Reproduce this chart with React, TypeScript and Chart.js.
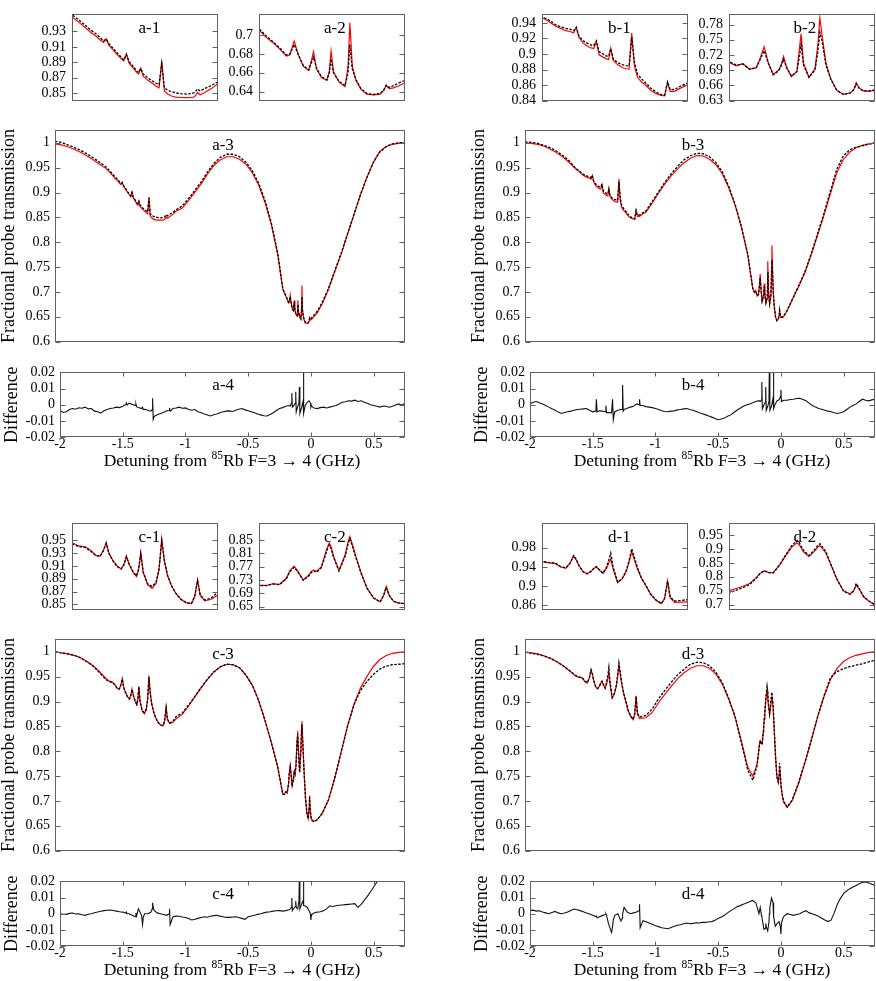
import React, { useEffect, useRef } from "react";
import { Chart, registerables } from "chart.js";

Chart.register(...registerables);

const SERIF = '"Liberation Serif", "Times New Roman", Times, serif';

// ---------- shared detuning grid (GHz) for transmission curves ----------
const detuning = [
  -2.0, -1.95, -1.9, -1.85, -1.8, -1.75, -1.7, -1.65,
  -1.6, -1.575, -1.55, -1.53, -1.51, -1.494, -1.481, -1.471, -1.461, -1.445,
  -1.43, -1.415, -1.405, -1.395, -1.385, -1.37, -1.357, -1.349, -1.341, -1.332,
  -1.315, -1.298, -1.283, -1.272, -1.262, -1.252, -1.24, -1.225, -1.21, -1.19,
  -1.17, -1.15, -1.138, -1.127, -1.117, -1.1, -1.075, -1.05,
  -1.0, -0.95, -0.9, -0.85, -0.8, -0.75, -0.7, -0.65, -0.6, -0.55, -0.5, -0.45, -0.4, -0.35, -0.3, -0.25,
  -0.21, -0.198, -0.187, -0.176, -0.165, -0.159, -0.152, -0.145, -0.137, -0.128,
  -0.124, -0.12, -0.115, -0.107, -0.098, -0.094, -0.091, -0.087, -0.078, -0.068,
  -0.063, -0.06, -0.056, -0.05, -0.042, -0.032, -0.021, -0.01, -0.004, 0,
  0.005, 0.012, 0.02, 0.031,
  0.06, 0.1, 0.15, 0.2, 0.25, 0.3, 0.35, 0.4, 0.45, 0.5, 0.55, 0.6, 0.65, 0.7, 0.75,
];

// ---------- panel a ----------
const theoryA = [
  0.998, 0.996, 0.992, 0.987, 0.981, 0.974, 0.966, 0.957,
  0.9486, 0.942, 0.935, 0.929, 0.924, 0.919, 0.9159, 0.9205, 0.912, 0.906,
  0.9, 0.895, 0.8917, 0.901, 0.889, 0.883, 0.877, 0.8749, 0.8824, 0.872,
  0.867, 0.863, 0.859, 0.857, 0.891, 0.853, 0.849, 0.8465, 0.845, 0.8445,
  0.8444, 0.8445, 0.8455, 0.851, 0.848, 0.851, 0.856, 0.8623,
  0.869, 0.884, 0.901, 0.918, 0.938, 0.955, 0.966, 0.972, 0.972, 0.967, 0.957, 0.94, 0.915, 0.88, 0.835, 0.775,
  0.7052, 0.6976, 0.692, 0.6854, 0.6778, 0.679, 0.6936, 0.679, 0.667, 0.6625,
  0.6717, 0.6823, 0.664, 0.6549, 0.6519, 0.661, 0.683, 0.661, 0.6503, 0.6452,
  0.667, 0.7128, 0.667, 0.652, 0.6427, 0.6373, 0.6366, 0.6373, 0.6412, 0.6464,
  0.6433, 0.644, 0.646, 0.6494,
  0.658, 0.676, 0.706, 0.742, 0.777, 0.817, 0.856, 0.895, 0.93, 0.96, 0.982, 0.992, 0.997, 0.999, 1.0,
];
const experimentA = [
  1.003, 1.001, 0.996, 0.991, 0.985, 0.978, 0.97, 0.961,
  0.9516, 0.945, 0.938, 0.932, 0.927, 0.922, 0.918, 0.92, 0.914, 0.908,
  0.902, 0.897, 0.893, 0.9, 0.891, 0.885, 0.879, 0.877, 0.882, 0.875,
  0.87, 0.866, 0.863, 0.861, 0.889, 0.857, 0.854, 0.852, 0.8505, 0.8495,
  0.849, 0.8495, 0.851, 0.8556, 0.853, 0.856, 0.86, 0.8649,
  0.873, 0.888, 0.905, 0.922, 0.942, 0.959, 0.971, 0.977, 0.977, 0.972, 0.961, 0.944, 0.919, 0.884, 0.839, 0.778,
  0.7067, 0.699, 0.693, 0.6865, 0.679, 0.68, 0.69, 0.679, 0.668, 0.663,
  0.67, 0.6762, 0.665, 0.656, 0.6525, 0.66, 0.6747, 0.66, 0.651, 0.6464,
  0.66, 0.69, 0.664, 0.653, 0.6435, 0.638, 0.637, 0.638, 0.642, 0.647,
  0.6445, 0.6464, 0.649, 0.652,
  0.661, 0.679, 0.708, 0.744, 0.779, 0.818, 0.857, 0.896, 0.93, 0.96, 0.981, 0.992, 0.998, 1.0, 1.001,
];

// ---------- panel b ----------
const theoryB = [
  1.0, 0.999, 0.997, 0.993, 0.987, 0.98, 0.971, 0.96,
  0.9474, 0.942, 0.936, 0.933, 0.93, 0.929, 0.927, 0.9344, 0.9215, 0.914,
  0.9104, 0.9078, 0.907, 0.916, 0.899, 0.896, 0.8937, 0.893, 0.9074, 0.8919,
  0.886, 0.8826, 0.881, 0.8807, 0.927, 0.8844, 0.87, 0.864, 0.86, 0.853,
  0.849, 0.8468, 0.8462, 0.863, 0.8519, 0.852, 0.8567, 0.8604,
  0.879, 0.899, 0.918, 0.934, 0.948, 0.96, 0.969, 0.9744, 0.9735, 0.967, 0.956, 0.938, 0.91, 0.875, 0.83, 0.775,
  0.7056, 0.6987, 0.7033, 0.6918, 0.695, 0.712, 0.7359, 0.7044, 0.6815, 0.69,
  0.7, 0.717, 0.6959, 0.677, 0.6873, 0.73, 0.7617, 0.7044, 0.6758, 0.693,
  0.7445, 0.7932, 0.756, 0.7044, 0.673, 0.65, 0.6426, 0.645, 0.652, 0.6655,
  0.655, 0.649, 0.6483, 0.65,
  0.662, 0.684, 0.711, 0.739, 0.775, 0.815, 0.855, 0.898, 0.94, 0.966, 0.981, 0.99, 0.995, 0.998, 1.0,
];
const experimentB = [
  1.002, 1.001, 0.999, 0.995, 0.99, 0.983, 0.974, 0.963,
  0.948, 0.944, 0.938, 0.935, 0.933, 0.932, 0.93, 0.9344, 0.9233, 0.917,
  0.914, 0.9115, 0.911, 0.917, 0.903, 0.9, 0.8974, 0.897, 0.9067, 0.8937,
  0.889, 0.8863, 0.885, 0.8844, 0.9215, 0.89, 0.874, 0.868, 0.863, 0.856,
  0.851, 0.8475, 0.847, 0.8641, 0.854, 0.8545, 0.8593, 0.863,
  0.882, 0.902, 0.921, 0.938, 0.953, 0.966, 0.974, 0.979, 0.978, 0.972, 0.96, 0.942, 0.913, 0.877, 0.832, 0.776,
  0.7073, 0.7, 0.7016, 0.692, 0.695, 0.71, 0.7285, 0.703, 0.681, 0.689,
  0.698, 0.7113, 0.695, 0.6787, 0.687, 0.715, 0.74, 0.7, 0.676, 0.69,
  0.73, 0.7645, 0.745, 0.7, 0.672, 0.65, 0.642, 0.645, 0.651, 0.6632,
  0.654, 0.649, 0.649, 0.651,
  0.663, 0.685, 0.712, 0.741, 0.778, 0.818, 0.859, 0.903, 0.947, 0.973, 0.986, 0.991, 0.994, 0.997, 1.0,
];

// ---------- panel c ----------
const theoryC = [
  1.0, 0.998, 0.996, 0.993, 0.988, 0.981, 0.972, 0.96,
  0.9464, 0.941, 0.9397, 0.9343, 0.926, 0.9253, 0.935, 0.9464, 0.9298, 0.918,
  0.91, 0.9052, 0.912, 0.9253, 0.913, 0.9, 0.893, 0.904, 0.9307, 0.9,
  0.8805, 0.8751, 0.883, 0.905, 0.9522, 0.918, 0.895, 0.879, 0.868, 0.858,
  0.8525, 0.8513, 0.862, 0.8881, 0.864, 0.8558, 0.858, 0.8648,
  0.874, 0.891, 0.91, 0.928, 0.945, 0.96, 0.97, 0.975, 0.974, 0.968, 0.953, 0.933, 0.902, 0.862, 0.817, 0.768,
  0.7135, 0.7135, 0.7187, 0.717, 0.735, 0.758, 0.7717, 0.7543, 0.73, 0.744,
  0.755, 0.7604, 0.756, 0.77, 0.825, 0.8413, 0.83, 0.8022, 0.7587, 0.805,
  0.845, 0.8604, 0.838, 0.8, 0.7543, 0.7065, 0.6761, 0.6648, 0.685, 0.7109,
  0.684, 0.666, 0.6613, 0.6587,
  0.662, 0.675, 0.703, 0.748, 0.8, 0.852, 0.895, 0.927, 0.95, 0.97, 0.984, 0.992, 0.997, 0.999, 1.0,
];
const experimentC = [
  1.0, 0.998, 0.996, 0.993, 0.988, 0.98, 0.971, 0.958,
  0.9442, 0.94, 0.9385, 0.933, 0.926, 0.925, 0.934, 0.945, 0.929, 0.917,
  0.909, 0.905, 0.911, 0.924, 0.913, 0.901, 0.8945, 0.905, 0.929, 0.901,
  0.882, 0.878, 0.885, 0.905, 0.9487, 0.917, 0.895, 0.879, 0.868, 0.858,
  0.853, 0.8515, 0.862, 0.887, 0.865, 0.857, 0.86, 0.8693,
  0.877, 0.893, 0.911, 0.929, 0.946, 0.96, 0.97, 0.975, 0.974, 0.968, 0.953, 0.933, 0.902, 0.862, 0.817, 0.768,
  0.7135, 0.713, 0.718, 0.716, 0.733, 0.755, 0.768, 0.752, 0.729, 0.742,
  0.752, 0.757, 0.753, 0.767, 0.818, 0.835, 0.824, 0.798, 0.757, 0.8,
  0.838, 0.8543, 0.832, 0.797, 0.753, 0.706, 0.676, 0.664, 0.684, 0.708,
  0.683, 0.666, 0.661, 0.6585,
  0.662, 0.675, 0.703, 0.748, 0.8, 0.852, 0.894, 0.922, 0.94, 0.954, 0.965, 0.971, 0.974, 0.975, 0.976,
];

// ---------- panel d ----------
const theoryD = [
  1.0, 0.998, 0.996, 0.992, 0.987, 0.98, 0.972, 0.962,
  0.9509, 0.9485, 0.9475, 0.94, 0.937, 0.948, 0.963, 0.955, 0.943, 0.93,
  0.9255, 0.931, 0.937, 0.94, 0.934, 0.9267, 0.937, 0.947, 0.957, 0.935,
  0.907, 0.915, 0.93, 0.95, 0.9721, 0.955, 0.935, 0.916, 0.902, 0.882,
  0.87, 0.8635, 0.874, 0.9115, 0.8752, 0.8661, 0.8665, 0.8673,
  0.878, 0.898, 0.915, 0.931, 0.946, 0.958, 0.967, 0.972, 0.972, 0.967, 0.955, 0.935, 0.905, 0.87, 0.82, 0.768,
  0.75, 0.758, 0.766, 0.776, 0.7969, 0.812, 0.8208, 0.816, 0.8146, 0.838,
  0.85, 0.8646, 0.88, 0.905, 0.9219, 0.915, 0.905, 0.89, 0.873, 0.894,
  0.908, 0.9115, 0.902, 0.8854, 0.8438, 0.7917, 0.75, 0.739, 0.75, 0.7708,
  0.755, 0.728, 0.7135, 0.6979,
  0.687, 0.701, 0.735, 0.777, 0.822, 0.87, 0.91, 0.944, 0.966, 0.98, 0.988, 0.993, 0.996, 0.999, 1.0,
];
const experimentD = [
  0.999, 0.997, 0.995, 0.991, 0.987, 0.98, 0.972, 0.962,
  0.952, 0.9495, 0.948, 0.941, 0.938, 0.948, 0.964, 0.956, 0.943, 0.93,
  0.926, 0.931, 0.937, 0.941, 0.935, 0.927, 0.94, 0.953, 0.969, 0.94,
  0.908, 0.916, 0.932, 0.953, 0.978, 0.96, 0.938, 0.917, 0.903, 0.883,
  0.871, 0.864, 0.875, 0.91, 0.877, 0.869, 0.87, 0.8721,
  0.885, 0.906, 0.923, 0.939, 0.954, 0.965, 0.975, 0.979, 0.978, 0.972, 0.959, 0.938, 0.907, 0.87, 0.818, 0.762,
  0.7417, 0.752, 0.761, 0.772, 0.795, 0.811, 0.822, 0.815, 0.814, 0.838,
  0.851, 0.866, 0.883, 0.91, 0.931, 0.923, 0.91, 0.895, 0.876, 0.899,
  0.914, 0.9188, 0.908, 0.89, 0.846, 0.792, 0.748, 0.737, 0.75, 0.776,
  0.758, 0.73, 0.714, 0.7,
  0.688, 0.702, 0.737, 0.779, 0.823, 0.87, 0.912, 0.948, 0.96, 0.966, 0.97, 0.973, 0.976, 0.98, 0.983,
];

// ---------- difference (theory - experiment) ----------
const diffDetuning = [
  -2, -1.975, -1.95, -1.925, -1.9, -1.875, -1.85, -1.825, -1.8, -1.775,
  -1.75, -1.725, -1.7, -1.675, -1.65, -1.625, -1.6, -1.575, -1.55, -1.525,
  -1.5, -1.475, -1.471, -1.465, -1.45, -1.425, -1.4, -1.395, -1.39, -1.375,
  -1.35, -1.342, -1.336, -1.325, -1.3, -1.275, -1.265, -1.262, -1.257, -1.25,
  -1.225, -1.2, -1.175, -1.15, -1.13, -1.127, -1.122, -1.1, -1.075, -1.05,
  -1.025, -1, -0.975, -0.95, -0.925, -0.9, -0.875, -0.85, -0.825, -0.8,
  -0.775, -0.75, -0.725, -0.7, -0.675, -0.65, -0.625, -0.6, -0.575, -0.55,
  -0.525, -0.5, -0.475, -0.45, -0.425, -0.4, -0.375, -0.35, -0.325, -0.3,
  -0.275, -0.25, -0.225, -0.2, -0.175, -0.165, -0.155, -0.152, -0.148, -0.135,
  -0.124, -0.121, -0.117, -0.105, -0.095, -0.092, -0.088, -0.075, -0.063, -0.06,
  -0.056, -0.045, -0.03, -0.015, -0.004, 0, 0.004, 0.015, 0.025, 0.05,
  0.075, 0.1, 0.125, 0.15, 0.175, 0.2, 0.225, 0.25, 0.275, 0.3,
  0.325, 0.35, 0.375, 0.4, 0.425, 0.45, 0.475, 0.5, 0.525, 0.55,
  0.575, 0.6, 0.625, 0.65, 0.675, 0.7, 0.725, 0.75,
];
const differenceA = [
  -0.0034, -0.0048, -0.0044, -0.003, -0.0024, -0.0028, -0.0019, -0.0022, -0.0015, -0.0026,
  -0.0024, -0.004, -0.0044, -0.0052, -0.0038, -0.003, -0.0024, -0.002, -0.0015, -0.0018,
  -0.001, 0.0002, 0.001, -0.0002, 0.001, 0.0002, -0.0005, 0.0005, -0.0012, -0.0018,
  -0.0024, -0.0015, -0.003, -0.0028, -0.0034, -0.004, -0.003, 0.004, -0.009, -0.0073,
  -0.0062, -0.0054, -0.0048, -0.0038, -0.0036, -0.002, -0.004, -0.0024, -0.002, -0.0015,
  -0.0022, -0.002, -0.003, -0.0034, -0.003, -0.0044, -0.005, -0.0058, -0.0064, -0.007,
  -0.0062, -0.0058, -0.005, -0.0044, -0.004, -0.0038, -0.0042, -0.0034, -0.0028, -0.0024,
  -0.0032, -0.0038, -0.0044, -0.005, -0.0058, -0.0063, -0.0068, -0.007, -0.006, -0.005,
  -0.0036, -0.0024, -0.0018, -0.001, -0.0005, -0.0008, 0.001, 0.0073, -0.0015, -0.0005,
  0.001, 0.008, -0.0045, -0.001, 0.001, 0.011, -0.0054, -0.002, 0.002, 0.021,
  -0.0054, -0.0005, 0.0015, 0.0024, 0.001, -0.0015, -0.0005, -0.0015, -0.002, -0.0024,
  -0.0018, -0.0015, -0.002, -0.0015, -0.001, -0.0005, 0.0005, 0.0015, 0.0018, 0.0024,
  0.0022, 0.0028, 0.002, 0.0024, 0.0015, 0.0009, 0.0, -0.0005, -0.001, -0.0015,
  -0.0008, -0.001, -0.0016, -0.001, -0.0002, 0.0005, -0.0003, 0.0009,
];
const differenceB = [
  0.0005, 0.0015, 0.002, 0.0012, 0.0005, -0.0005, -0.0015, -0.0025, -0.0034, -0.0046,
  -0.0054, -0.0048, -0.0044, -0.004, -0.0034, -0.003, -0.0028, -0.0026, -0.0024, -0.0035,
  -0.0044, -0.004, 0.0034, -0.0045, -0.0038, -0.004, -0.0044, -0.0005, -0.005, -0.0048,
  -0.005, 0.0034, -0.0093, -0.0045, -0.0034, -0.003, -0.003, 0.0122, -0.004, -0.003,
  -0.0022, -0.0015, -0.001, 0.0005, 0.0, 0.0034, -0.0005, -0.0005, -0.0012, -0.0015,
  -0.0018, -0.0024, -0.003, -0.0038, -0.0042, -0.0044, -0.004, -0.0038, -0.0032, -0.003,
  -0.0026, -0.0024, -0.003, -0.0034, -0.0042, -0.005, -0.0056, -0.0063, -0.007, -0.0077,
  -0.0085, -0.0093, -0.0088, -0.0083, -0.0072, -0.0063, -0.0048, -0.0034, -0.0022, -0.001,
  -0.0002, 0.0005, 0.0012, 0.002, 0.0025, 0.002, 0.003, 0.014, -0.0025, 0.0,
  0.0015, 0.011, -0.0035, -0.001, 0.002, 0.025, -0.0034, -0.001, 0.004, 0.025,
  -0.0025, 0.0005, 0.0025, 0.003, 0.005, 0.0093, 0.002, 0.0025, 0.0028, 0.0028,
  0.0032, 0.0034, 0.0038, 0.004, 0.0032, 0.0024, 0.001, -0.0005, -0.0015, -0.0024,
  -0.0028, -0.0034, -0.004, -0.0044, -0.005, -0.0054, -0.005, -0.0044, -0.003, -0.0015,
  -0.0005, 0.0005, 0.002, 0.0034, 0.0028, 0.0024, 0.003, 0.0034,
];
const differenceC = [
  0.0, -0.0004, -0.0004, 0.0002, 0.0004, -0.0002, 0.0, -0.0006, -0.001, -0.0003,
  0.0, 0.0006, 0.001, 0.0015, 0.0019, 0.0021, 0.0023, 0.002, 0.0016, 0.0012,
  0.001, 0.0004, 0.001, 0.0, 0.0, -0.001, -0.0019, 0.0005, -0.0015, 0.003,
  -0.001, -0.0068, -0.002, 0.0, 0.0, 0.001, 0.003, 0.0068, 0.004, 0.002,
  0.0005, 0.0, -0.0005, -0.001, 0.0, 0.003, -0.0068, -0.0019, -0.0015, -0.0016,
  -0.002, -0.0023, -0.003, -0.0039, -0.0034, -0.0029, -0.0024, -0.0019, -0.0022, -0.0016,
  -0.0012, -0.001, -0.0015, -0.0019, -0.0023, -0.0023, -0.002, -0.0019, -0.0024, -0.0029,
  -0.0035, -0.0019, -0.0014, -0.001, -0.0004, 0.0, 0.0005, 0.001, 0.0012, 0.0016,
  0.0018, 0.0019, 0.0016, 0.0019, 0.0025, 0.003, 0.004, 0.0097, 0.0019, 0.0035,
  0.0045, 0.0078, 0.004, 0.003, 0.008, 0.025, 0.003, 0.0058, 0.008, 0.025,
  0.005, 0.0048, 0.004, 0.0019, 0.0, -0.0039, -0.001, 0.0, 0.0005, 0.001,
  0.0012, 0.0019, 0.003, 0.0049, 0.0045, 0.0049, 0.0052, 0.0054, 0.0056, 0.0058,
  0.006, 0.0062, 0.004, 0.0058, 0.0082, 0.0107, 0.0136, 0.0165, 0.0195, 0.022,
  0.0232, 0.024, 0.0245, 0.0247, 0.0249, 0.0249, 0.0245, 0.0244,
];
const differenceD = [
  0.0019, 0.0022, 0.0016, 0.0018, 0.001, 0.0005, 0.0, 0.0008, 0.0014, 0.0005,
  0.0, 0.0004, 0.001, 0.002, 0.0029, 0.0024, 0.0019, 0.0012, 0.0004, -0.0002,
  -0.001, -0.0018, -0.0015, -0.0025, -0.002, -0.0012, -0.0005, 0.0, -0.001, -0.006,
  -0.0117, -0.008, -0.004, -0.001, 0.0, -0.0045, -0.003, 0.0, 0.0015, 0.0039,
  0.001, 0.0, 0.0005, 0.001, 0.002, 0.0058, -0.0087, -0.0043, -0.005, -0.0058,
  -0.0066, -0.0074, -0.008, -0.0087, -0.009, -0.0093, -0.0085, -0.0078, -0.0072, -0.0068,
  -0.0062, -0.0058, -0.0062, -0.006, -0.0056, -0.0058, -0.0054, -0.0054, -0.005, -0.0049,
  -0.004, -0.0029, -0.002, -0.001, 0.0005, 0.0019, 0.003, 0.0043, 0.005, 0.0058,
  0.0066, 0.0074, 0.0082, 0.0068, 0.0, 0.0039, -0.001, -0.0019, -0.004, -0.0097,
  -0.009, -0.006, -0.008, -0.0107, -0.005, 0.0, 0.004, 0.0097, 0.0068, 0.004,
  -0.002, -0.0078, -0.006, -0.005, -0.008, -0.0126, -0.006, -0.003, -0.0015, 0.0,
  -0.0005, -0.001, -0.0005, 0.0, 0.001, 0.0019, 0.0005, 0.0, -0.0008, -0.0016,
  -0.0028, -0.0039, -0.0049, -0.004, 0.0005, 0.0058, 0.0095, 0.0126, 0.0142, 0.0155,
  0.0165, 0.0175, 0.0185, 0.0194, 0.0196, 0.019, 0.0182, 0.0175,
];

// ---------- axis ranges & tick values ----------
const mainRangeX = [-2, 0.75];
const detuningTicks = [-2, -1.5, -1, -0.5, 0, 0.5];
const inset1RangeX = [-1.6, -1.05];
const inset2RangeX = [-0.21, 0.031];
const mainRangeY = [0.6, 1.025];
const mainTicks = [0.6, 0.65, 0.7, 0.75, 0.8, 0.85, 0.9, 0.95, 1];
const diffRangeY = [-0.02, 0.02];
const diffTicks = [-0.02, -0.01, 0, 0.01, 0.02];

const a1Ticks = [0.85, 0.87, 0.89, 0.91, 0.93];
const a1Range = [0.8405, 0.952];
const a2Ticks = [0.64, 0.66, 0.68, 0.7];
const a2Range = [0.6305, 0.722];
const b1Ticks = [0.84, 0.86, 0.88, 0.9, 0.92, 0.94];
const b1Range = [0.84, 0.951];
const b2Ticks = [0.63, 0.66, 0.69, 0.72, 0.75, 0.78];
const b2Range = [0.63, 0.8];
const c1Ticks = [0.85, 0.87, 0.89, 0.91, 0.93, 0.95];
const c1Range = [0.842, 0.976];
const c2Ticks = [0.65, 0.69, 0.73, 0.77, 0.81, 0.85];
const c2Range = [0.641, 0.9];
const d1Ticks = [0.86, 0.9, 0.94, 0.98];
const d1Range = [0.851, 1.031];
const d2Ticks = [0.7, 0.75, 0.8, 0.85, 0.9, 0.95];
const d2Range = [0.682, 0.992];

const RED = "rgb(255,0,0)";
const BLACK = "#000000";

type Series = { xs: number[]; ys: number[]; color: string; width: number; dash?: number[] };
type Spec = {
  left: number; top: number; right: number; bottom: number;
  canvasLeft: number; padTop: number; padBottom: number; xAxisHeight: number;
  xr: number[]; yr: number[]; yTicks: number[]; xTicks: number[] | null;
  yTitle: string | null; yTitlePad: number; yTickPad: number;
  label: string; labelFx: number; labelDy: number;
  series: Series[];
};

const fmt = (v: number) => String(Number(Number(v).toFixed(4)));

function SubChart({ spec, ox, oy }: { spec: Spec; ox: number; oy: number }) {
  const ref = useRef<HTMLCanvasElement | null>(null);
  const cw = spec.right + 1 - spec.canvasLeft;
  const ch = spec.bottom + spec.xAxisHeight + spec.padBottom - (spec.top - spec.padTop);
  useEffect(() => {
    const yw = spec.left - spec.canvasLeft;
    const framePlugin = {
      id: "frame",
      afterDatasetsDraw(chart: any) {
        const { ctx, chartArea: ca, scales } = chart;
        const l = Math.round(ca.left) + 0.5;
        const r = Math.round(ca.right) - 0.5;
        const t = Math.round(ca.top) + 0.5;
        const b = Math.round(ca.bottom) - 0.5;
        ctx.save();
        ctx.strokeStyle = "#606060";
        ctx.lineWidth = 1;
        ctx.setLineDash([]);
        ctx.strokeRect(l, t, r - l, b - t);
        ctx.beginPath();
        for (const v of spec.yTicks) {
          const y = Math.round(scales.y.getPixelForValue(v)) + 0.5;
          ctx.moveTo(l, y); ctx.lineTo(l + 5, y);
          ctx.moveTo(r, y); ctx.lineTo(r - 5, y);
        }
        if (spec.xTicks) {
          for (const v of spec.xTicks) {
            const x = Math.round(scales.x.getPixelForValue(v)) + 0.5;
            ctx.moveTo(x, b); ctx.lineTo(x, b - 4);
            ctx.moveTo(x, t); ctx.lineTo(x, t + 4);
          }
        }
        ctx.stroke();
        ctx.font = `17px ${SERIF}`;
        ctx.fillStyle = "#000";
        ctx.textAlign = "center";
        ctx.textBaseline = "middle";
        ctx.fillText(spec.label, ca.left + spec.labelFx * (ca.right - ca.left), ca.top + spec.labelDy);
        ctx.restore();
      },
    };
    const chart = new Chart(ref.current as HTMLCanvasElement, {
      type: "line",
      data: {
        datasets: spec.series.map((s) => ({
          data: s.xs.map((x, i) => ({ x, y: s.ys[i] })),
          borderColor: s.color,
          borderWidth: s.width,
          borderDash: s.dash || [],
          pointRadius: 0,
          fill: false,
          tension: 0,
        })),
      },
      options: {
        animation: false,
        responsive: false,
        maintainAspectRatio: false,
        devicePixelRatio: 1,
        events: [],
        layout: { padding: { left: 0, right: 1, top: spec.padTop, bottom: spec.padBottom } },
        plugins: { legend: { display: false }, tooltip: { enabled: false } },
        scales: {
          x: {
            type: "linear",
            min: spec.xr[0],
            max: spec.xr[1],
            display: !!spec.xTicks,
            grid: { display: false, drawTicks: false },
            border: { display: false },
            ticks: {
              autoSkip: false,
              maxRotation: 0,
              padding: 0,
              color: "#000",
              font: { family: SERIF, size: 14, lineHeight: 1 },
              callback: (v: any) => fmt(v),
            },
            afterBuildTicks: (s: any) => {
              s.ticks = (spec.xTicks || []).map((v) => ({ value: v }));
            },
            afterFit: (s: any) => {
              s.height = spec.xAxisHeight;
            },
          },
          y: {
            type: "linear",
            min: spec.yr[0],
            max: spec.yr[1],
            grid: { display: false, drawTicks: false },
            border: { display: false },
            ticks: {
              autoSkip: false,
              padding: spec.yTickPad,
              color: "#000",
              font: { family: SERIF, size: 14 },
              callback: (v: any) => fmt(v),
            },
            title: {
              display: !!spec.yTitle,
              text: spec.yTitle || "",
              color: "#000",
              font: { family: SERIF, size: 18, lineHeight: 1 },
              padding: { top: spec.yTitlePad, bottom: 0 },
            },
            afterBuildTicks: (s: any) => {
              s.ticks = spec.yTicks.map((v) => ({ value: v }));
            },
            afterFit: (s: any) => {
              s.width = yw;
            },
          },
        },
      } as any,
      plugins: [framePlugin as any],
    });
    return () => chart.destroy();
  }, []);
  return (
    <canvas
      ref={ref}
      width={cw}
      height={ch}
      style={{ position: "absolute", left: ox + spec.canvasLeft, top: oy + spec.top - spec.padTop, width: cw, height: ch }}
    />
  );
}

type PanelDef = {
  letter: string; ox: number; oy: number;
  theory: number[]; experiment: number[]; difference: number[];
  t1: number[]; r1: number[]; t2: number[]; r2: number[];
};

const panelDefs: PanelDef[] = [
  { letter: "a", ox: 0, oy: 0, theory: theoryA, experiment: experimentA, difference: differenceA, t1: a1Ticks, r1: a1Range, t2: a2Ticks, r2: a2Range },
  { letter: "b", ox: 470, oy: 0, theory: theoryB, experiment: experimentB, difference: differenceB, t1: b1Ticks, r1: b1Range, t2: b2Ticks, r2: b2Range },
  { letter: "c", ox: 0, oy: 509, theory: theoryC, experiment: experimentC, difference: differenceC, t1: c1Ticks, r1: c1Range, t2: c2Ticks, r2: c2Range },
  { letter: "d", ox: 470, oy: 509, theory: theoryD, experiment: experimentD, difference: differenceD, t1: d1Ticks, r1: d1Range, t2: d2Ticks, r2: d2Range },
];

function makeSpecs(p: PanelDef): Spec[] {
  const curves: Series[] = [
    { xs: detuning, ys: p.experiment, color: BLACK, width: 1.3, dash: [2.5, 1.5] },
    { xs: detuning, ys: p.theory, color: RED, width: 1.2 },
  ];
  return [
    {
      left: 72, top: 7, right: 218, bottom: 107, canvasLeft: 20, padTop: 7, padBottom: 8, xAxisHeight: 0,
      xr: inset1RangeX, yr: p.r1, yTicks: p.t1, xTicks: null, yTitle: null, yTitlePad: 0, yTickPad: 6,
      label: `${p.letter}-1`, labelFx: 0.53, labelDy: 14, series: curves,
    },
    {
      left: 259, top: 7, right: 405, bottom: 107, canvasLeft: 212, padTop: 7, padBottom: 8, xAxisHeight: 0,
      xr: inset2RangeX, yr: p.r2, yTicks: p.t2, xTicks: null, yTitle: null, yTitlePad: 0, yTickPad: 6,
      label: `${p.letter}-2`, labelFx: 0.52, labelDy: 14, series: curves,
    },
    {
      left: 55, top: 125, right: 405, bottom: 347, canvasLeft: 0, padTop: 8, padBottom: 8, xAxisHeight: 0,
      xr: mainRangeX, yr: mainRangeY, yTicks: mainTicks, xTicks: null,
      yTitle: "Fractional probe transmission", yTitlePad: 0, yTickPad: 5,
      label: `${p.letter}-3`, labelFx: 0.48, labelDy: 15, series: curves,
    },
    {
      left: 60, top: 367, right: 405, bottom: 437, canvasLeft: 0, padTop: 8, padBottom: 0, xAxisHeight: 22,
      xr: mainRangeX, yr: diffRangeY, yTicks: diffTicks, xTicks: detuningTicks,
      yTitle: "Difference", yTitlePad: 3, yTickPad: 5,
      label: `${p.letter}-4`, labelFx: 0.473, labelDy: 13,
      series: [{ xs: diffDetuning, ys: p.difference, color: "#111111", width: 1.1 }],
    },
  ];
}

export default function App() {
  return (
    <div style={{ position: "absolute", left: 0, top: 0, width: 876, height: 981, overflow: "hidden", background: "#fff" }}>
      {panelDefs.map((p) => (
        <React.Fragment key={p.letter}>
          {makeSpecs(p).map((s, i) => (
            <SubChart key={i} spec={s} ox={p.ox} oy={p.oy} />
          ))}
          <div
            style={{
              position: "absolute",
              left: p.ox + 32,
              top: p.oy + 450,
              width: 400,
              textAlign: "center",
              fontFamily: SERIF,
              fontSize: 17.5,
              lineHeight: "20px",
              whiteSpace: "nowrap",
              color: "#000",
            }}
          >
            Detuning from <span style={{ fontSize: 11.5, position: "relative", top: -7 }}>85</span>Rb F=3 → 4 (GHz)
          </div>
        </React.Fragment>
      ))}
    </div>
  );
}
